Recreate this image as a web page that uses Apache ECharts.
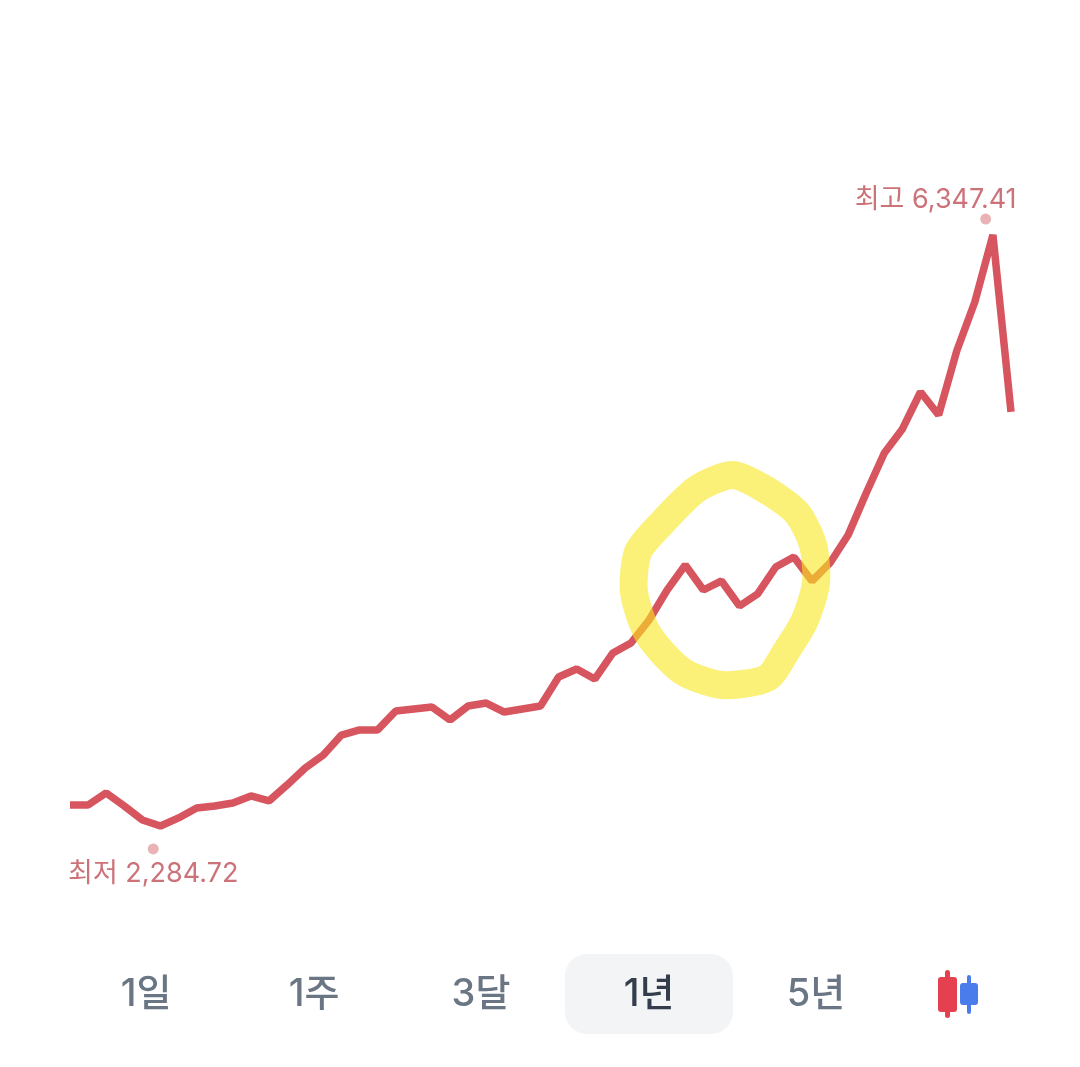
<!DOCTYPE html>
<html lang="ko">
<head>
<meta charset="utf-8">
<title>1년 차트</title>
<script src="https://cdn.jsdelivr.net/npm/echarts@6/dist/echarts.min.js"></script>
<style>html,body{margin:0;padding:0;background:#fff}#c{width:1080px;height:1067px}</style>
</head>
<body>
<div id="c"></div>
<script>
const priceValues = [2429,2429,2512,2422,2326,2284.72,2340,2408,2422,2443,2491,2457,2567,2683,2773,2910,2945,2945,3075,3089,3103,3013,3110,3130,3068,3089,3110,3309,3364,3295,3474,3543,3701,3907,4079,3907,3969,3797,3880,4065,4134,3969,4093,4285,4574,4849,5014,5268,5110,5550,5887,6347.41,5131];
const lowLabel = '최저 2,284.72';
const highLabel = '최고 6,347.41';
const lowDot = [4.6, 2127];
const highDot = [50.6, 6457];
const rangeTabs = ['1일','1주','3달','1년','5년'];
const activeTab = '1년';

const chart = echarts.init(document.getElementById('c'), null, {renderer:'canvas'});
const font = 'Inter,"Noto Sans CJK KR","Noto Sans",sans-serif';

const tabX = [146,314,481,649,816];
const tabGraphics = rangeTabs.map((t,i)=>({
  type:'text', z:10, x:tabX[i], y:995,
  style:{text:t, font:'500 38px '+font, align:'center', verticalAlign:'middle',
         fill:t===activeTab?'#333D4B':'#6B7684'}
}));
const rr = (x,y,w,h,r,fill,z)=>({type:'rect',z:z||5,shape:{x,y,width:w,height:h,r},style:{fill}});
const ring = [[733,475],[768,491],[797,513],[813,545],[816,583],[805,620],[787,650],[767,678],[722,685],[682,671],[648,634],[634,592],[638,552],[660,525],[697,489]];

chart.setOption({
  animation:false,
  backgroundColor:'#fff',
  grid:{left:70,width:941,top:212.8,height:654.6,containLabel:false},
  xAxis:{type:'value',min:0,max:52,show:false},
  yAxis:{type:'value',min:2000,max:6500,show:false},
  series:[
    {type:'line',z:3,data:priceValues.map((v,i)=>[i,v]),showSymbol:false,symbol:'none',
     lineStyle:{color:'#D6555F',width:7.5,join:'bevel',cap:'butt'}},
    {type:'scatter',z:4,symbolSize:11,itemStyle:{color:'#E3A0A4'},silent:true,
     data:[
       {value:lowDot,label:{show:true,formatter:lowLabel,position:'bottom',distance:6,
         color:'#BF4F58',fontSize:27,fontFamily:font}},
       {value:highDot,label:{show:true,formatter:highLabel,position:'top',distance:0,offset:[-50,0],
         color:'#BF4F58',fontSize:27,fontFamily:font}}
     ]}
  ],
  graphic:[
    {type:'polygon',z:100,
     shape:{points:ring,smooth:0.25},
     style:{fill:'none',stroke:'rgba(248,232,30,0.6)',lineWidth:28,lineJoin:'round'}},
    rr(565,954,168,80,22,'#F2F4F6',5),
    ...tabGraphics,
    rr(945,970,5,48,2.5,'#E5404F',6),
    rr(938,977,19,35,3,'#E5404F',7),
    rr(967,975,4,39,2,'#4A7DEB',6),
    rr(960,983,18,22,3,'#4A7DEB',7)
  ]
});
</script>
</body>
</html>
